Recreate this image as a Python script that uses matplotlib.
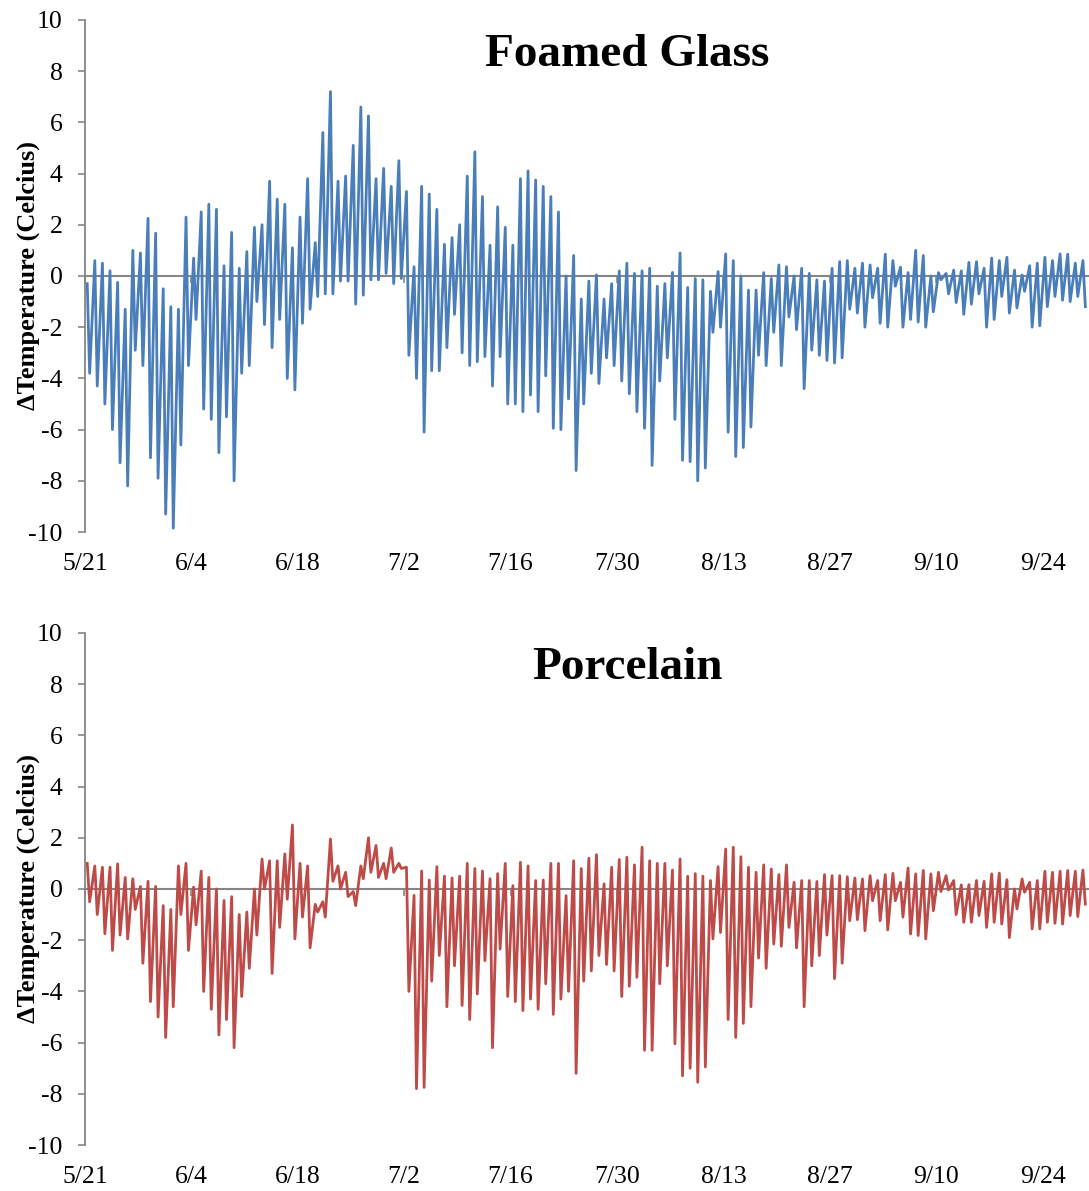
import numpy as np
import matplotlib
matplotlib.use('Agg')
import matplotlib.pyplot as plt

plt.rcParams['font.family'] = ['Liberation Serif', 'DejaVu Serif']
plt.rcParams['axes.unicode_minus'] = False

# x axis: days since 5/21
tick_days = [0, 14, 28, 42, 56, 70, 84, 98, 112, 126]
tick_labels = ['5/21', '6/4', '6/18', '7/2', '7/16', '7/30', '8/13', '8/27', '9/10', '9/24']

# Foamed Glass: daily peak and trough of the temperature difference
fg_hi = [-0.3, 0.6, 0.5, 0.2, -0.25, -1.3, 1.0, 0.9, 2.25, 1.67,
         -0.5, -1.2, -1.3, 2.3, 0.7, 2.5, 2.8, 2.6, 0.4, 1.7,
         0.3, 0.95, 1.9, 2.0, 3.7, 3.0, 2.8, 1.1, 2.3, 3.8,
         1.3, 5.6, 7.2, 3.7, 3.9, 5.1, 6.6, 6.25, 3.8, 4.2,
         3.5, 4.5, 3.3, 0.36, 3.5, 3.2, 2.6, 1.24, 1.5, 2.0,
         3.9, 4.85, 3.1, 1.2, 2.7, 1.9, 1.2, 3.8, 4.1, 3.75,
         3.5, 3.1, 2.5, 0.0, 0.8, -0.9, -0.2, 0.04, -0.9, -0.3,
         0.2, 0.5, 0.1, 0.2, 0.3, -0.4, -0.3, 0.14, 0.9, -0.45,
         -0.1, -0.15, -0.6, 0.17, 0.86, 0.6, 0.0, -0.55, -0.55, 0.13,
         -0.1, 0.43, 0.36, 0.0, 0.3, 0.1, -0.15, -0.2, 0.3, 0.56,
         0.6, 0.3, 0.5, 0.43, 0.3, 0.85, 0.6, 0.34, 0.13, 1.0,
         0.8, 0.0, 0.13, 0.1, 0.23, 0.2, 0.53, 0.56, 0.3, 0.7,
         0.6, 0.73, 0.23, 0.04, 0.4, 0.5, 0.73, 0.6, 0.86, 0.85,
         0.5, 0.6]
fg_lo = [-3.8, -4.3, -5.0, -6.0, -7.3, -8.2, -2.9, -3.5, -7.1, -7.9,
         -9.3, -9.85, -6.6, -3.5, -1.7, -5.2, -5.6, -6.9, -5.5, -8.0,
         -3.8, -3.5, -1.0, -1.9, -2.8, -1.7, -4.0, -4.45, -1.85, -1.3,
         -0.8, -0.7, -0.7, -0.2, -0.2, -1.1, -0.75, -0.15, -0.15, 0.1,
         -0.3, -0.1, -3.1, -4.0, -6.1, -3.7, -3.7, -2.8, -1.5, -3.0,
         -3.5, -3.35, -3.15, -4.3, -3.15, -5.0, -5.0, -5.3, -4.65, -5.3,
         -3.9, -5.95, -6.0, -4.8, -7.6, -5.0, -3.8, -4.2, -3.2, -3.5,
         -4.1, -4.6, -5.3, -5.95, -7.4, -4.1, -3.2, -5.6, -7.2, -7.25,
         -8.0, -7.5, -2.2, -2.0, -6.1, -7.05, -6.7, -5.9, -3.1, -3.5,
         -2.2, -3.5, -1.6, -2.1, -4.4, -2.9, -3.1, -3.3, -3.4, -3.2,
         -1.3, -1.45, -2.0, -0.85, -1.85, -2.0, -0.4, -2.0, -1.7, -1.8,
         -2.0, -1.4, -0.15, -0.7, -1.04, -1.5, -1.1, -0.7, -2.0, -1.7,
         -0.8, -1.45, -1.25, -0.6, -2.0, -1.95, -1.2, -0.8, -0.95, -1.0,
         -0.8, -1.2]

# Porcelain
pc_hi = [1.0, 0.9, 0.85, 0.85, 0.98, 0.45, 0.4, 0.1, 0.3, 0.1,
         -0.65, -0.8, 0.9, 1.0, 0.07, 0.7, 0.45, 0.0, -0.45, -0.3,
         -1.0, -0.9, 0.0, 1.17, 1.1, 1.1, 1.37, 2.5, 1.0, 0.9,
         -0.6, -0.5, 1.95, 0.9, 0.65, -0.1, 0.9, 2.0, 1.7, 1.0,
         1.6, 1.0, 0.85, -0.25, 0.7, 0.35, 0.87, 0.5, 0.43, 0.5,
         1.0, 0.8, 0.7, 0.4, 0.6, 1.0, 0.13, 1.04, 0.9, 0.33,
         0.35, 1.0, 1.0, -0.26, 1.1, 0.8, 1.2, 1.34, 0.2, 0.85,
         1.15, 1.24, 0.94, 1.63, 1.1, 1.0, 1.0, 0.74, 1.17, 0.5,
         0.6, 0.5, 0.33, 0.87, 1.56, 1.63, 1.26, 0.85, 0.65, 0.94,
         0.78, 0.56, 0.94, 0.26, 0.33, 0.33, 0.29, 0.56, 0.52, 0.52,
         0.48, 0.43, 0.39, 0.52, 0.33, 0.56, 0.61, 0.26, 0.82, 0.59,
         0.72, 0.59, 0.65, 0.52, 0.33, 0.16, 0.17, 0.33, 0.3, 0.59,
         0.62, 0.36, 0.0, 0.39, 0.26, 0.33, 0.69, 0.65, 0.69, 0.72,
         0.69, 0.74]
pc_lo = [-0.5, -1.0, -1.75, -2.4, -1.8, -1.95, -0.8, -2.9, -4.4, -5.0,
         -5.8, -4.6, -1.0, -2.4, -1.4, -4.0, -4.7, -5.7, -5.1, -6.2,
         -4.2, -3.1, -1.8, 0.0, -3.3, -1.5, -0.4, -1.95, -1.1, -2.3,
         -0.9, -1.1, 0.3, 0.0, -0.3, -0.65, 0.4, 0.65, 0.45, 0.4,
         0.65, 0.8, -4.0, -7.8, -7.75, -3.6, -2.6, -4.6, -3.0, -4.55,
         -5.1, -4.1, -2.8, -6.2, -2.35, -4.2, -4.4, -4.75, -4.3, -4.7,
         -3.7, -4.9, -4.3, -4.0, -7.2, -3.6, -3.2, -2.6, -2.95, -3.2,
         -4.2, -3.8, -3.45, -6.3, -6.3, -3.7, -3.0, -6.05, -7.3, -7.0,
         -7.55, -6.95, -1.95, -1.7, -5.1, -5.8, -5.25, -4.6, -2.7, -3.1,
         -2.15, -2.24, -1.5, -2.3, -4.6, -3.0, -2.6, -1.8, -3.5, -2.9,
         -1.24, -1.2, -1.63, -0.46, -1.24, -1.6, -0.46, -1.1, -1.76, -1.82,
         -1.95, -0.85, -0.1, -0.04, -1.0, -1.3, -1.3, -1.04, -1.5, -1.3,
         -1.37, -1.9, -0.78, -0.13, -1.56, -1.56, -1.3, -1.34, -1.37, -1.04,
         -1.08, -0.59]

GRAY = '#868686'


def day_series(hi, lo):
    # peak in the morning part of each day, trough later on
    d = np.arange(len(hi))
    t = np.column_stack([d + 0.3, d + 0.62]).ravel()
    v = np.column_stack([hi, lo]).ravel()
    return t, v


fig = plt.figure(figsize=(10.89, 11.91), dpi=100)

panels = [
    (0.5533, fg_hi, fg_lo, '#4a7ebb', 'Foamed Glass'),
    (0.0386, pc_hi, pc_lo, '#be4b48', 'Porcelain'),
]

for bottom, hi, lo, col, title in panels:
    ax = fig.add_axes([0.078, bottom, 0.922, 0.43])
    t, v = day_series(hi, lo)
    ax.plot(t, v, color=col, lw=2.0, zorder=3, solid_joinstyle='round')
    ax.set_xlim(0, 132.1)
    ax.set_ylim(-10, 10)
    ax.set_yticks(range(-10, 11, 2))
    ax.set_xticks(tick_days)

    for s in ['top', 'right']:
        ax.spines[s].set_visible(False)
    ax.spines['left'].set_color(GRAY)
    ax.spines['left'].set_linewidth(1.3)
    ax.spines['bottom'].set_position(('data', 0))
    ax.spines['bottom'].set_color(GRAY)
    ax.spines['bottom'].set_linewidth(1.5)

    ax.tick_params(axis='y', direction='out', length=5, width=1.2, color=GRAY,
                   labelsize=18.5, pad=11)
    ax.tick_params(axis='x', direction='out', length=5, width=1.2, color=GRAY,
                   labelbottom=False)

    sec = ax.secondary_xaxis('bottom')
    sec.set_xticks(tick_days, labels=tick_labels)
    sec.tick_params(length=0, pad=15, labelsize=18.5)
    sec.spines['bottom'].set_visible(False)

    ax.text(0.54, 0.932, title, transform=ax.transAxes, ha='center', va='center',
            fontsize=34, fontweight='bold')
    ax.set_ylabel('ΔTemperature (Celcius)', fontsize=19, fontweight='bold')
    ax.yaxis.set_label_coords(-0.045, 0.5)

fig.savefig('out.png', dpi=100)
